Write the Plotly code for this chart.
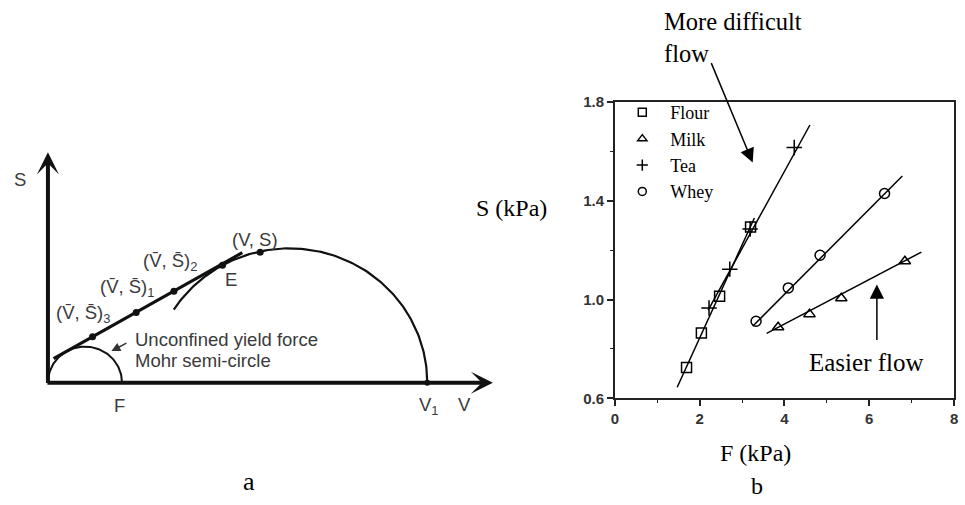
import numpy as np
import plotly.graph_objects as go

W, H = 965, 505

# ---------------- Panel b data ----------------
flour_F = [1.69, 2.04, 2.47, 3.20]
flour_S = [0.725, 0.865, 1.013, 1.293]
milk_F = [3.85, 4.59, 5.34, 6.84]
milk_S = [0.888, 0.941, 1.005, 1.155]
tea_F = [2.22, 2.71, 3.19, 4.23]
tea_S = [0.966, 1.123, 1.285, 1.615]
whey_F = [3.33, 4.09, 4.84, 6.36]
whey_S = [0.912, 1.047, 1.179, 1.429]

# fitted lines (end points)
flour_fit_F = [1.47, 3.29]
flour_fit_S = [0.645, 1.330]
tea_fit_F = [2.20, 4.60]
tea_fit_S = [0.957, 1.706]
whey_fit_F = [3.25, 6.78]
whey_fit_S = [0.892, 1.500]
milk_fit_F = [3.58, 7.23]
milk_fit_S = [0.863, 1.192]

x_ticks = [0, 2, 4, 6, 8]
y_ticks = [0.6, 1.0, 1.4, 1.8]

# ---------------- Panel a schematic values ----------------
locus_V = [45, 89, 127, 176]          # points on yield locus (V-bar, S-bar) and E
locus_S = [47.5, 72.5, 94.7, 121.6]
vs_point = [214, 135]                  # (V, S)
V1 = 382.5
yield_line_V = [5.7, 196]
yield_line_S = [24.9, 134.5]
small_c, small_r = 37.35, 37.35        # unconfined yield Mohr semi-circle
big_c, big_r = 243.5, 139.0            # Mohr circle through V1
big_start_deg = 147
y_axis_top = 238.4
x_axis_end = 448.7

fig = go.Figure()

# ---------- Panel b traces ----------
LW = 1.5
for fx, fy in [(flour_fit_F, flour_fit_S), (tea_fit_F, tea_fit_S),
               (whey_fit_F, whey_fit_S), (milk_fit_F, milk_fit_S)]:
    fig.add_trace(go.Scatter(x=fx, y=fy, mode='lines', line=dict(color='black', width=LW),
                             showlegend=False, hoverinfo='skip'))

series = [
    ('Flour', flour_F, flour_S, 'square-open', 10),
    ('Milk', milk_F, milk_S, 'triangle-up-open', 10),
    ('Tea', tea_F, tea_S, 'cross-thin-open', 11),
    ('Whey', whey_F, whey_S, 'circle-open', 10),
]
for name, xs, ys, sym, sz in series:
    fig.add_trace(go.Scatter(x=xs, y=ys, mode='markers', name=name, showlegend=False,
                             marker=dict(symbol=sym, size=sz, color='black',
                                         line=dict(color='black', width=1.5))))
# legend entries
for name, xs, ys, sym, sz in series:
    fig.add_trace(go.Scatter(x=[None], y=[None], mode='markers', name=name, showlegend=True,
                             marker=dict(symbol=sym, size=8, color='black',
                                         line=dict(color='black', width=1.5))))

# ---------- Panel a traces ----------
th = np.linspace(0, np.pi, 120)
fig.add_trace(go.Scatter(x=small_c + small_r * np.cos(th), y=small_r * np.sin(th),
                         mode='lines', line=dict(color='#111', width=2),
                         xaxis='x2', yaxis='y2', showlegend=False, hoverinfo='skip'))
th2 = np.linspace(0, np.radians(big_start_deg), 160)
fig.add_trace(go.Scatter(x=big_c + big_r * np.cos(th2), y=big_r * np.sin(th2),
                         mode='lines', line=dict(color='#111', width=2.2),
                         xaxis='x2', yaxis='y2', showlegend=False, hoverinfo='skip'))
fig.add_trace(go.Scatter(x=yield_line_V, y=yield_line_S, mode='lines',
                         line=dict(color='#111', width=3.2),
                         xaxis='x2', yaxis='y2', showlegend=False, hoverinfo='skip'))
fig.add_trace(go.Scatter(x=locus_V + [vs_point[0]], y=locus_S + [vs_point[1]], mode='markers',
                         marker=dict(color='#111', size=7),
                         xaxis='x2', yaxis='y2', showlegend=False))
fig.add_trace(go.Scatter(x=[V1], y=[0], mode='markers', marker=dict(color='#111', size=6),
                         xaxis='x2', yaxis='y2', showlegend=False))

annotations = []
# axis arrows of panel a
annotations.append(dict(x=0, y=y_axis_top, ax=0, ay=-2, xref='x2', yref='y2', axref='x2', ayref='y2',
                        text='', showarrow=True, arrowhead=3, arrowwidth=4, arrowsize=0.92,
                        arrowcolor='#111'))
annotations.append(dict(x=x_axis_end, y=0, ax=-2, ay=0, xref='x2', yref='y2', axref='x2', ayref='y2',
                        text='', showarrow=True, arrowhead=3, arrowwidth=4, arrowsize=0.92,
                        arrowcolor='#111'))
# small arrow to Mohr semi-circle
annotations.append(dict(x=64, y=32.7, ax=80.7, ay=41.7, xref='x2', yref='y2', axref='x2', ayref='y2',
                        text='', showarrow=True, arrowhead=2, arrowwidth=1.5, arrowsize=1.2,
                        arrowcolor='#333'))

sans = dict(family='Liberation Sans, Arial', size=18.5, color='#3a3a3a')
bar = '\u0304'
a_labels = [
    ('S', -28, 210, 'center'),
    ('F', 72.4, -24, 'center'),
    ('V<sub>1</sub>', 372.4, -24, 'left'),
    ('V', 419.7, -22.3, 'center'),
    ('(V' + bar + ', S' + bar + ')<sub>3</sub>', 5.7, 71.2, 'left'),
    ('(V' + bar + ', S' + bar + ')<sub>1</sub>', 50, 98.4, 'left'),
    ('(V' + bar + ', S' + bar + ')<sub>2</sub>', 93.4, 125, 'left'),
    ('E', 184.7, 106.7, 'center'),
    ('(V, S)', 208.7, 148.4, 'center'),
    ('Unconfined yield force', 85.7, 45, 'left'),
    ('Mohr semi-circle', 85.7, 22.7, 'left'),
]
for t, x, y, xa in a_labels:
    annotations.append(dict(x=x, y=y, xref='x2', yref='y2', text=t, showarrow=False,
                            xanchor=xa, yanchor='middle', font=sans))

serif = 'Liberation Serif, Times New Roman'
def paper(px, py):
    return px / W, 1 - py / H

for t, px, py, xa, sz in [
    ('a', 246.7, 489, 'center', 26),
    ('b', 759, 494, 'center', 24),
    ('S (kPa)', 550, 206, 'right', 24),
    ('F (kPa)', 757.5, 459, 'center', 24),
    ('More difficult<br>flow', 663, 29, 'left', 24.5),
    ('Easier flow', 870, 366, 'center', 25),
]:
    x, y = paper(px, py)
    annotations.append(dict(x=x, y=y, xref='paper', yref='paper', text=t, showarrow=False,
                            xanchor=xa, yanchor='middle', align='left',
                            font=dict(family=serif, size=sz, color='black')))

# panel b arrows
annotations.append(dict(x=3.25, y=1.554, xref='x', yref='y', ax=-42, ay=-101, text='',
                        showarrow=True, arrowhead=2, arrowwidth=1.5, arrowsize=1.9,
                        arrowcolor='black'))
annotations.append(dict(x=6.18, y=1.061, xref='x', yref='y', ax=0, ay=57, text='',
                        showarrow=True, arrowhead=2, arrowwidth=1.5, arrowsize=1.9,
                        arrowcolor='black'))

tickfont = dict(family='Liberation Sans, Arial', size=15, color='#333', weight='bold')

fig.update_layout(
    width=W, height=H, autosize=False,
    margin=dict(l=0, r=0, t=0, b=0),
    paper_bgcolor='white', plot_bgcolor='white',
    annotations=annotations,
    xaxis=dict(domain=[616 / W, 958 / W], range=[0, 8], tickvals=x_ticks,
               ticks='outside', ticklen=6, tickwidth=1.5, tickcolor='#222',
               showline=True, linecolor='#222', linewidth=1.5, mirror=True,
               showgrid=False, zeroline=False, tickfont=tickfont,
               minor=dict(dtick=1, ticks='outside', ticklen=3, tickwidth=1.2, tickcolor='#222')),
    yaxis=dict(domain=[1 - 403 / H, 1 - 96 / H], range=[0.6, 1.8], tickvals=y_ticks,
               tickformat='.1f',
               ticks='outside', ticklen=6, tickwidth=1.5, tickcolor='#222',
               showline=True, linecolor='#222', linewidth=1.5, mirror=True,
               showgrid=False, zeroline=False, tickfont=tickfont,
               minor=dict(dtick=0.2, tick0=0.6, ticks='outside', ticklen=3, tickwidth=1.2, tickcolor='#222')),
    xaxis2=dict(domain=[0, 500 / W], range=[-44.3, 455.7], visible=False, anchor='y2'),
    yaxis2=dict(domain=[0, 1], range=[-118.3, 386.7], visible=False, anchor='x2'),
    legend=dict(x=615.4 / W, xanchor='left', y=1 - 88 / H, yanchor='top',
                font=dict(family=serif, size=18, color='black'),
                bgcolor='rgba(0,0,0,0)', itemwidth=46, tracegroupgap=0),
    showlegend=True,
)

fig.write_html('out.html', config={'displayModeBar': False},
               post_script="document.body.style.margin='0';document.body.style.overflow='hidden';")
